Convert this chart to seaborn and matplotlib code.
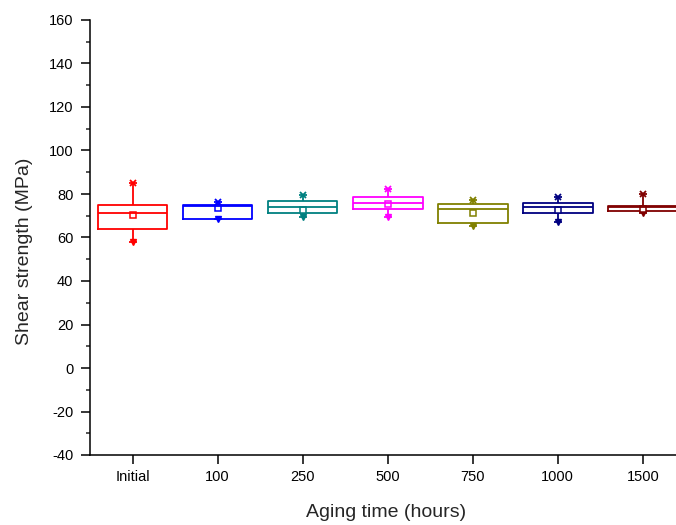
import numpy as np
import pandas as pd
import seaborn as sns
import matplotlib.pyplot as plt
from matplotlib.ticker import MultipleLocator

# Shear strength (MPa) five-number summaries per aging time
aging = ["Initial", "100", "250", "500", "750", "1000", "1500"]
min_vals = [58.0, 68.4, 69.3, 69.3, 65.3, 67.3, 71.4]
q1_vals = [63.9, 68.4, 71.4, 73.0, 66.5, 71.4, 72.2]
median_vals = [71.4, 74.5, 74.2, 75.7, 73.0, 73.9, 73.9]
q3_vals = [75.0, 75.0, 76.9, 78.5, 75.5, 75.7, 74.6]
max_vals = [85.2, 76.5, 79.5, 82.1, 77.2, 78.5, 79.8]
mean_vals = [70.3, 73.6, 72.6, 75.2, 71.1, 72.6, 73.1]
colors = ["#FF0000", "#0000FF", "#008080", "#FF00FF", "#808000", "#000080", "#800000"]

# Five points per group reproduce min / Q1 / median / Q3 / max exactly
rows = []
for name, a, b, c, d, e in zip(aging, min_vals, q1_vals, median_vals, q3_vals, max_vals):
    for v in (a, b, c, d, e):
        rows.append({"aging": name, "strength": v})
df = pd.DataFrame(rows)

sns.set_style("ticks")
plt.rcParams["font.family"] = ["Liberation Sans", "DejaVu Sans"]
plt.rcParams["axes.unicode_minus"] = False

fig = plt.figure(figsize=(6.76, 5.25), dpi=100)
ax = fig.add_axes([90 / 676, 1 - 455 / 525, 1 - 90 / 676, (455 - 20) / 525])

sns.boxplot(data=df, x="aging", y="strength", hue="aging", order=aging,
            hue_order=aging, palette=colors, fill=False, width=0.82,
            whis=(0, 100), linewidth=1.3, legend=False, ax=ax, showcaps=False)

pos = np.arange(len(aging))
for i, col in enumerate(colors):
    ax.plot(pos[i], max_vals[i], marker="x", ms=5, mew=1.3, color=col, ls="none")
    ax.plot(pos[i], max_vals[i], marker="_", ms=6, mew=1.3, color=col, ls="none")
    ax.plot(pos[i], min_vals[i], marker="v", ms=4.5, color=col, ls="none")
    ax.plot(pos[i], min_vals[i], marker="_", ms=6, mew=1.3, color=col, ls="none")
    ax.plot(pos[i], mean_vals[i], marker="s", ms=4, mew=1.1, mfc="white",
            mec=col, ls="none")

ax.set_xlim(-0.5, 6.39)
ax.set_ylim(-40, 160)
ax.yaxis.set_major_locator(MultipleLocator(20))
ax.yaxis.set_minor_locator(MultipleLocator(10))
ax.tick_params(axis="both", which="major", direction="out", length=6.5,
               width=1.1, labelsize=10.5, colors="black")
ax.tick_params(axis="y", which="major", pad=5.5)
ax.tick_params(axis="x", which="major", pad=4.5)
ax.tick_params(axis="y", which="minor", direction="out", length=3, width=1.1)
for side in ("top", "right"):
    ax.spines[side].set_visible(False)
for side in ("left", "bottom"):
    ax.spines[side].set_linewidth(1.1)
    ax.spines[side].set_color("black")

ax.set_xlabel("Aging time (hours)", fontsize=14)
ax.set_ylabel("Shear strength (MPa)", fontsize=14)
ax.xaxis.set_label_coords(0.505, -0.113)
ax.yaxis.set_label_coords(-0.098, 0.468)

fig.savefig("out.png", dpi=100)
